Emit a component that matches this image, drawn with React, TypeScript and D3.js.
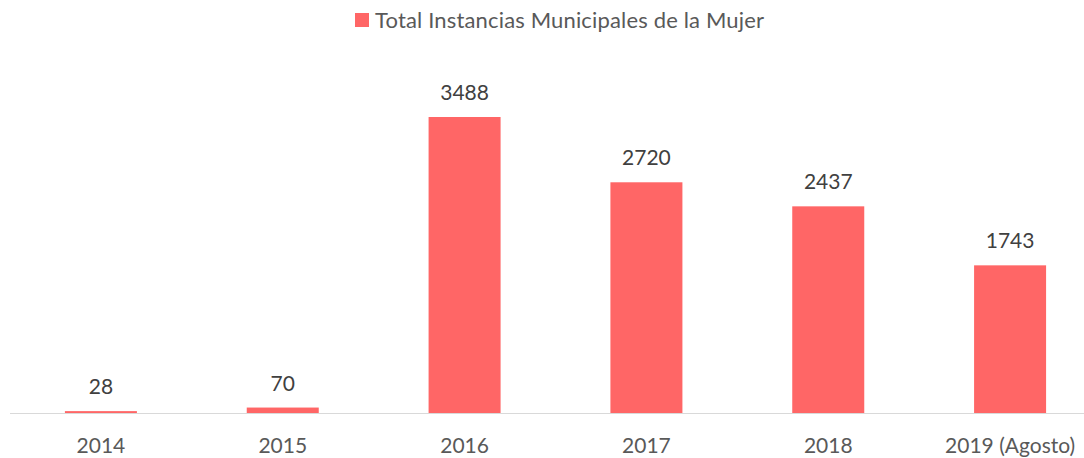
import React from "react";
import * as d3 from "d3";

const categories = ["2014", "2015", "2016", "2017", "2018", "2019 (Agosto)"];
const values = [28, 70, 3488, 2720, 2437, 1743];
const seriesName = "Total Instancias Municipales de la Mujer";

const W = 1084;
const H = 458;
const FONT = "Lato, 'Open Sans', sans-serif";
const BAR = "#FF6666";
const TEXT = "#595959";

export default function App() {
  const x = d3.scaleBand<string>().domain(categories).range([10, 1101]).paddingInner(0.604).paddingOuter(0.302);
  const y = d3.scaleLinear().domain([0, 3488]).range([413.5, 117]);
  return (
    <svg width={W} height={H} style={{ position: "absolute", left: 0, top: 0, fontFamily: FONT }}>
      <rect x={0} y={0} width={W} height={H} fill="#fff" />
      <rect x={355} y={13} width={14} height={14} fill={BAR} />
      <text x={375} y={28} fontSize={22} fill={TEXT} textLength={389} lengthAdjust="spacing">{seriesName}</text>
      {values.map((v, i) => (
        <rect key={i} x={x(categories[i])} y={y(v)} width={x.bandwidth()} height={y(0) - y(v)} fill={BAR} />
      ))}
      <line x1={10} x2={W} y1={413.5} y2={413.5} stroke="#D9D9D9" strokeWidth={1} />
      {values.map((v, i) => (
        <text key={i} x={x(categories[i])! + x.bandwidth() / 2} y={y(v) - 17} textAnchor="middle" fontSize={21} fill="#404040">{v}</text>
      ))}
      {categories.map((c, i) => (
        <text key={i} x={x(c)! + x.bandwidth() / 2} y={453} textAnchor="middle" fontSize={21} fill={TEXT}>{c}</text>
      ))}
    </svg>
  );
}
